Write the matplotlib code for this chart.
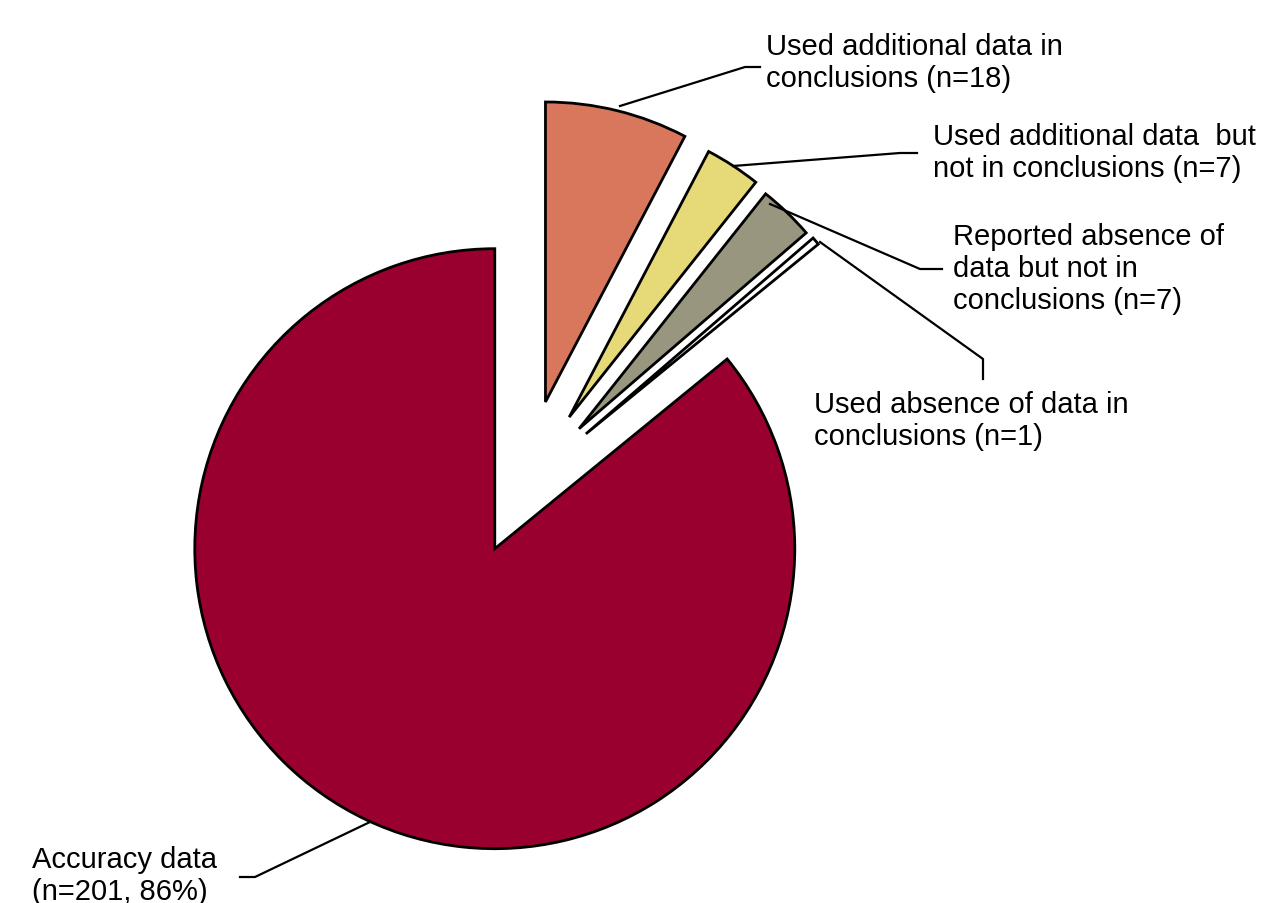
import matplotlib.pyplot as plt
from matplotlib.lines import Line2D

categories = [
    "Used additional data in\nconclusions (n=18)",
    "Used additional data  but\nnot in conclusions (n=7)",
    "Reported absence of\ndata but not in\nconclusions (n=7)",
    "Used absence of data in\nconclusions (n=1)",
    "Accuracy data\n(n=201, 86%)",
]
counts = [18, 7, 7, 1, 201]
colors = ["#D9775C", "#E6D978", "#999680", "#FFFFFF", "#990030"]
explode = [0.285, 0.27, 0.26, 0.265, 0.235]

W, H = 1283, 904
fig = plt.figure(figsize=(W / 100, H / 100), dpi=100)
ax = fig.add_axes([0, 0, 1, 1])
cx, cy, R = 525, 486, 300
wedges, _ = ax.pie(counts, explode=explode, colors=colors, startangle=90,
                   counterclock=False, radius=1,
                   wedgeprops=dict(edgecolor="black", linewidth=2))
ax.set_xlim(-cx / R, (W - cx) / R)
ax.set_ylim(-(H - cy) / R, cy / R)
ax.set_aspect("equal")
ax.axis("off")

# label positions (pixels: left, top)
label_pos = [(766, 33), (933, 123), (953, 223), (814, 391), (32, 846)]
# leader lines (pixels)
leaders = [
    [(620, 107), (745, 68), (760, 68)],
    [(733, 167), (900, 154), (917, 154)],
    [(770, 205), (920, 270), (942, 270)],
    [(820, 243), (983, 360), (983, 380)],
    [(370, 823), (255, 878), (240, 878)],
]

for (x, y), txt in zip(label_pos, categories):
    fig.text(x / W, 1 - y / H, txt, ha="left", va="top", fontsize=21,
             family="Liberation Sans", linespacing=1.185)

for pts in leaders:
    xs = [p[0] / W for p in pts]
    ys = [1 - p[1] / H for p in pts]
    fig.add_artist(Line2D(xs, ys, transform=fig.transFigure, color="black",
                          linewidth=1.6))

fig.savefig("out.png", dpi=100)
